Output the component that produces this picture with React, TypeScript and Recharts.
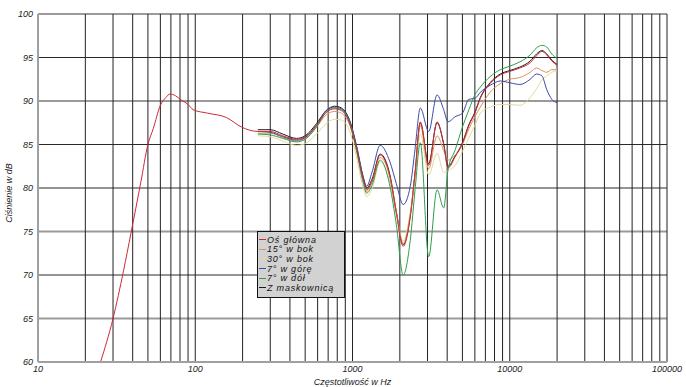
import { Legend, Line, LineChart, ReferenceLine, XAxis, YAxis } from "recharts";

const FONT = "'Liberation Sans', Arial, sans-serif";

// low end, measured on axis only (main curve)
const lowFreqs = [25, 30, 35, 39, 45, 50, 54, 60, 65, 69, 75, 80, 90, 97, 120, 158, 197];
const lowMain = [60, 65, 70.5, 74.8, 80.6, 85.0, 86.8, 89.5, 90.4, 90.8, 90.6, 90.2, 89.6, 89.0, 88.6, 88.1, 87.0];

// shared frequency grid for all six measurements from 250 Hz up
const freqs = [
  250, 300, 360, 440, 500, 590, 680, 770, 850, 970, 1060, 1170, 1230, 1330, 1500, 1730, 1900, 2100, 2330, 2500,
  2700, 3050, 3450, 3800, 4050, 4500, 5000, 5500, 6000, 6500, 7500, 8700, 10000, 11600, 13500, 14800, 16000,
  17200, 18500, 20000,
];

const onAxis = [
  86.5, 86.5, 86.0, 85.6, 85.9, 87.2, 88.7, 89.1, 88.9, 87.2, 84.6, 81.0, 79.8, 80.8, 83.8, 81.3, 77.1, 73.3, 76.7, 81.7,
  87.6, 82.6, 87.6, 85.0, 82.3, 83.6, 85.1, 87.2, 88.6, 90.3, 92.0, 93.0, 93.4, 93.8, 94.4, 95.2, 95.7, 95.3, 94.6, 94.1,
];
const side15 = [
  86.3, 86.3, 85.8, 85.4, 85.7, 87.0, 88.4, 88.8, 88.6, 87.0, 84.4, 80.8, 79.6, 80.6, 83.5, 81.2, 77.2, 73.6, 77.0, 81.5,
  87.2, 82.2, 86.0, 84.3, 83.2, 83.8, 85.0, 86.8, 88.2, 89.3, 91.0, 92.0, 92.5, 92.7, 93.3, 93.8, 93.5, 93.3, 93.6, 93.6,
];
const side30 = [
  86.0, 85.9, 85.4, 84.9, 85.1, 86.2, 87.4, 87.9, 87.8, 86.3, 83.6, 80.0, 79.0, 79.9, 83.0, 80.6, 77.0, 73.9, 77.2, 81.0,
  86.2, 81.5, 84.0, 81.8, 82.0, 82.6, 84.2, 85.8, 87.2, 88.6, 89.3, 89.6, 89.6, 89.5, 90.4, 91.4, 92.4, 92.9, 93.3, 93.5,
];
const up7 = [
  86.5, 86.4, 85.9, 85.5, 85.8, 87.2, 88.9, 89.3, 89.1, 87.5, 84.9, 81.3, 80.2, 81.8, 84.9, 83.0, 80.5, 78.1, 80.2, 84.5,
  89.2, 86.5, 90.7, 89.0, 87.6, 88.2, 88.6, 90.2, 90.3, 91.0, 91.8, 92.3, 92.1, 91.9, 92.5, 93.1, 92.9, 91.3, 90.2, 89.8,
];
const down7 = [
  86.2, 86.1, 85.7, 85.3, 85.6, 87.0, 88.7, 89.2, 89.0, 87.2, 84.3, 80.6, 79.4, 80.3, 83.2, 80.2, 75.8, 70.0, 74.0, 79.8,
  85.2, 72.1, 79.8, 77.7, 82.1, 84.4, 87.0, 89.0, 90.7, 91.6, 92.8, 93.6, 94.0, 94.5, 95.3, 96.1, 96.4, 96.2, 95.4, 94.9,
];
const withGrille = [
  86.7, 86.7, 86.2, 85.7, 86.0, 87.4, 88.9, 89.4, 89.2, 87.5, 84.8, 81.2, 80.0, 81.0, 83.9, 81.5, 77.3, 73.5, 76.8, 81.8,
  87.5, 82.8, 87.5, 85.1, 82.5, 83.7, 85.2, 87.3, 88.7, 90.4, 92.1, 93.1, 93.5, 93.9, 94.6, 95.4, 95.8, 95.4, 94.7, 94.2,
];

const seriesNames = ["Oś główna", "15° w bok", "30° w bok", "7° w górę", "7° w dół", "Z maskownicą"];
const seriesColors = ["#cc2b35", "#d9935f", "#e2da96", "#3d4aa8", "#2f9e4b", "#1a1a1a"];

const yTicks = [60, 65, 70, 75, 80, 85, 90, 95, 100];
const xTicks = [10, 100, 1000, 10000, 100000];
const gridFreqs = xTicks.slice(0, -1).flatMap((d) => [2, 3, 4, 5, 6, 7, 8, 9, 10].map((m) => m * d));
// rows that come out grey and soft in the scanned original
const softRows = [100, 90, 75, 65];

const toRows = (fs: number[], vals: number[]) => fs.map((f, i) => ({ f, db: vals[i] }));

const mainData = [...toRows(lowFreqs, lowMain), ...toRows(freqs, onAxis)];
const otherData = [side15, side30, up7, down7, withGrille].map((v) => toRows(freqs, v));

function LegendBox() {
  return (
    <div
      style={{
        width: 85,
        height: 62,
        background: "#d2d2d2",
        border: "1px solid #111",
        padding: "3px 0 0 1px",
        fontFamily: FONT,
        fontSize: 9,
        letterSpacing: 0.8,
        fontStyle: "italic",
        color: "#111",
      }}
    >
      {seriesNames.map((name, i) => (
        <div key={name} style={{ display: "flex", alignItems: "center", height: 9.6, whiteSpace: "nowrap" }}>
          <span style={{ display: "inline-block", width: 7, height: 1, background: seriesColors[i], marginRight: 1 }} />
          {name}
        </div>
      ))}
    </div>
  );
}

function YTitle() {
  return (
    <text
      transform="translate(10,193) rotate(-90)"
      textAnchor="middle"
      dominantBaseline="middle"
      fontSize={9}
      fontStyle="italic"
      fontFamily={FONT}
      fill="#222"
    >
      Ciśnienie w dB
    </text>
  );
}

function XTitle(props: { viewBox?: { x: number; y: number; width: number; height: number } }) {
  const vb = props.viewBox || { x: 0, y: 0, width: 0, height: 0 };
  return (
    <text
      x={vb.x + vb.width / 2}
      y={vb.y + vb.height - 4}
      textAnchor="middle"
      dominantBaseline="middle"
      fontSize={9}
      fontStyle="italic"
      fontFamily={FONT}
      fill="#222"
    >
      Częstotliwość w Hz
    </text>
  );
}

const tickStyle = { fontSize: 9, fontStyle: "italic", fill: "#222", fontFamily: FONT };

export default function App() {
  return (
    <div style={{ position: "absolute", left: 0, top: 0, width: 686, height: 387, background: "#fff" }}>
      <LineChart width={686} height={387} margin={{ top: 14, right: 19, left: 0, bottom: 0 }}>
        <XAxis
          type="number"
          dataKey="f"
          scale="log"
          domain={[10, 100000]}
          ticks={xTicks}
          interval={0}
          allowDataOverflow
          height={25}
          tickLine={false}
          tickSize={2}
          tickMargin={2}
          tick={tickStyle}
          axisLine={{ stroke: "#a0a0a0", strokeWidth: 2 }}
          label={<XTitle />}
        />
        <YAxis
          type="number"
          domain={[60, 100]}
          ticks={yTicks}
          interval={0}
          width={38}
          tickLine={false}
          tickSize={3}
          tickMargin={2}
          tick={tickStyle}
          axisLine={{ stroke: "#a0a0a0", strokeWidth: 2 }}
          label={<YTitle />}
        />
        {yTicks.slice(1).map((v) => (
          <ReferenceLine
            key={"h" + v}
            y={v}
            stroke={softRows.includes(v) ? "#9a9a9a" : "#2a2a2a"}
            strokeWidth={softRows.includes(v) ? 2 : 1}
            ifOverflow="visible"
          />
        ))}
        {gridFreqs.map((f) => (
          <ReferenceLine key={f} x={f} stroke="#222" strokeWidth={1} ifOverflow="visible" />
        ))}
        <Line
          data={otherData[4]}
          dataKey="db"
          type="monotone"
          stroke={seriesColors[5]}
          strokeWidth={1}
          dot={false}
          isAnimationActive={false}
        />
        {[1, 0, 2, 3].map((k) => (
          <Line
            key={k}
            data={otherData[k]}
            dataKey="db"
            type="monotone"
            stroke={seriesColors[k + 1]}
            strokeWidth={1}
            dot={false}
            isAnimationActive={false}
          />
        ))}
        <Line
          data={mainData}
          dataKey="db"
          type="monotone"
          stroke={seriesColors[0]}
          strokeWidth={1}
          dot={false}
          isAnimationActive={false}
        />
        <Legend
          layout="vertical"
          align="center"
          verticalAlign="middle"
          content={() => <LegendBox />}
          wrapperStyle={{ position: "absolute", left: 257, top: 231, width: 87 }}
        />
      </LineChart>
    </div>
  );
}
